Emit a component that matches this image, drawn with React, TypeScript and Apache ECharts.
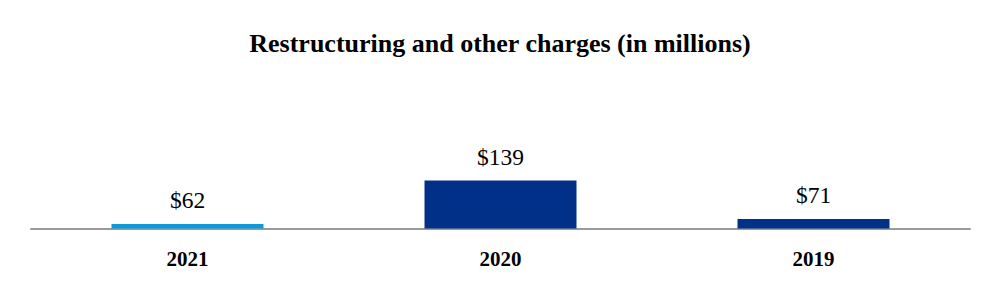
import React, { useEffect, useRef } from "react";
import * as echarts from "echarts";

const title = "Restructuring and other charges (in millions)";
const categories = ["2021", "2020", "2019"];
const values = [62, 139, 71];
const barColors = ["#0E9AD8", "#003087", "#003087"];

export default function App() {
  const ref = useRef<HTMLDivElement>(null);
  useEffect(() => {
    const chart = echarts.init(ref.current!, null, { renderer: "svg" });
    chart.setOption({
      animation: false,
      title: {
        text: title,
        left: "center",
        top: 25,
        textStyle: {
          fontFamily: "Liberation Serif",
          fontWeight: "bold",
          fontSize: 26,
          color: "#000",
        },
      },
      grid: { left: 31, right: 30, top: 118, bottom: 71.5, containLabel: false },
      xAxis: {
        type: "category",
        data: categories,
        axisLine: { show: true, lineStyle: { color: "#9a9a9a", width: 2 } },
        axisTick: { show: false },
        axisLabel: {
          margin: 20,
          fontFamily: "Liberation Serif",
          fontWeight: "bold",
          fontSize: 21,
          color: "#000",
        },
      },
      yAxis: {
        type: "value",
        min: 54,
        max: 250,
        show: false,
        splitLine: { show: false },
      },
      series: [
        {
          type: "bar",
          barWidth: 152,
          data: values.map((v, i) => ({ value: v, itemStyle: { color: barColors[i] } })),
          label: {
            show: true,
            position: "top",
            distance: 12,
            formatter: (p: any) => "$" + p.value,
            fontFamily: "Liberation Serif",
            fontSize: 23.5,
            color: "#000",
          },
        },
      ],
    });
    return () => chart.dispose();
  }, []);
  return <div ref={ref} style={{ width: 1000, height: 300, margin: -8 }} />;
}
